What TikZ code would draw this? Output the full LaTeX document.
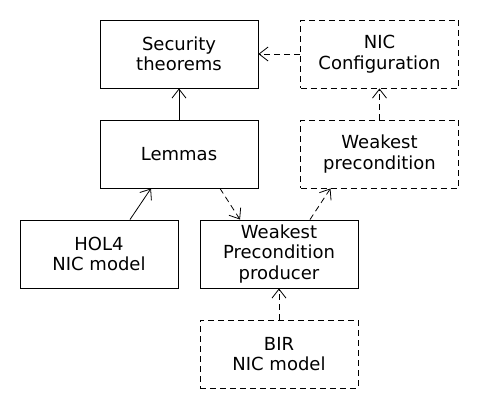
\documentclass[tikz,border=0pt]{standalone}
\usepackage{fontspec}
\setmainfont{DejaVu Sans}
\usetikzlibrary{arrows.meta}
\begin{document}
\begin{tikzpicture}
		[x=1pt,y=-1pt,
		box/.style={draw,line width=0.9pt,minimum width=158pt,minimum height=68pt,
			align=center,inner sep=0pt,font=\fontsize{18}{20.5}\selectfont},
		dbox/.style={box,dash pattern=on 6pt off 4pt},
		arr/.style={-{Straight Barb[length=9pt,width=14pt]},line width=0.8pt},
		darr/.style={arr,dash pattern=on 6pt off 4pt}]
		
		\useasboundingbox (0,0) rectangle (480,410);
		
		\node[box] (sec) at (179,54) {Security\\theorems};
		\node[dbox] (conf) at (379.5,54) {NIC\\Configuration};
		\node[box] (lem) at (179,154) {Lemmas};
		\node[dbox] (wpre) at (379.5,154) {Weakest\\precondition};
		\node[box] (hol) at (99,254) {HOL4\\NIC model};
		\node[box] (wpp) at (279,254) {Weakest\\Precondition\\producer};
		\node[dbox] (bir) at (279,354) {BIR\\NIC model};
		
		\draw[arr] (lem) -- (sec);
		\draw[darr] (conf) -- (sec);
		\draw[darr] (wpre) -- (conf);
		\draw[arr] ([xshift=31pt]hol.north) -- ([xshift=-28pt]lem.south);
		\draw[darr] ([xshift=41pt]lem.south) -- ([xshift=-39pt]wpp.north);
		\draw[darr] ([xshift=31pt]wpp.north) -- ([xshift=-49pt]wpre.south);
		\draw[darr] (bir) -- (wpp);
	
	\end{tikzpicture}
\end{document}
